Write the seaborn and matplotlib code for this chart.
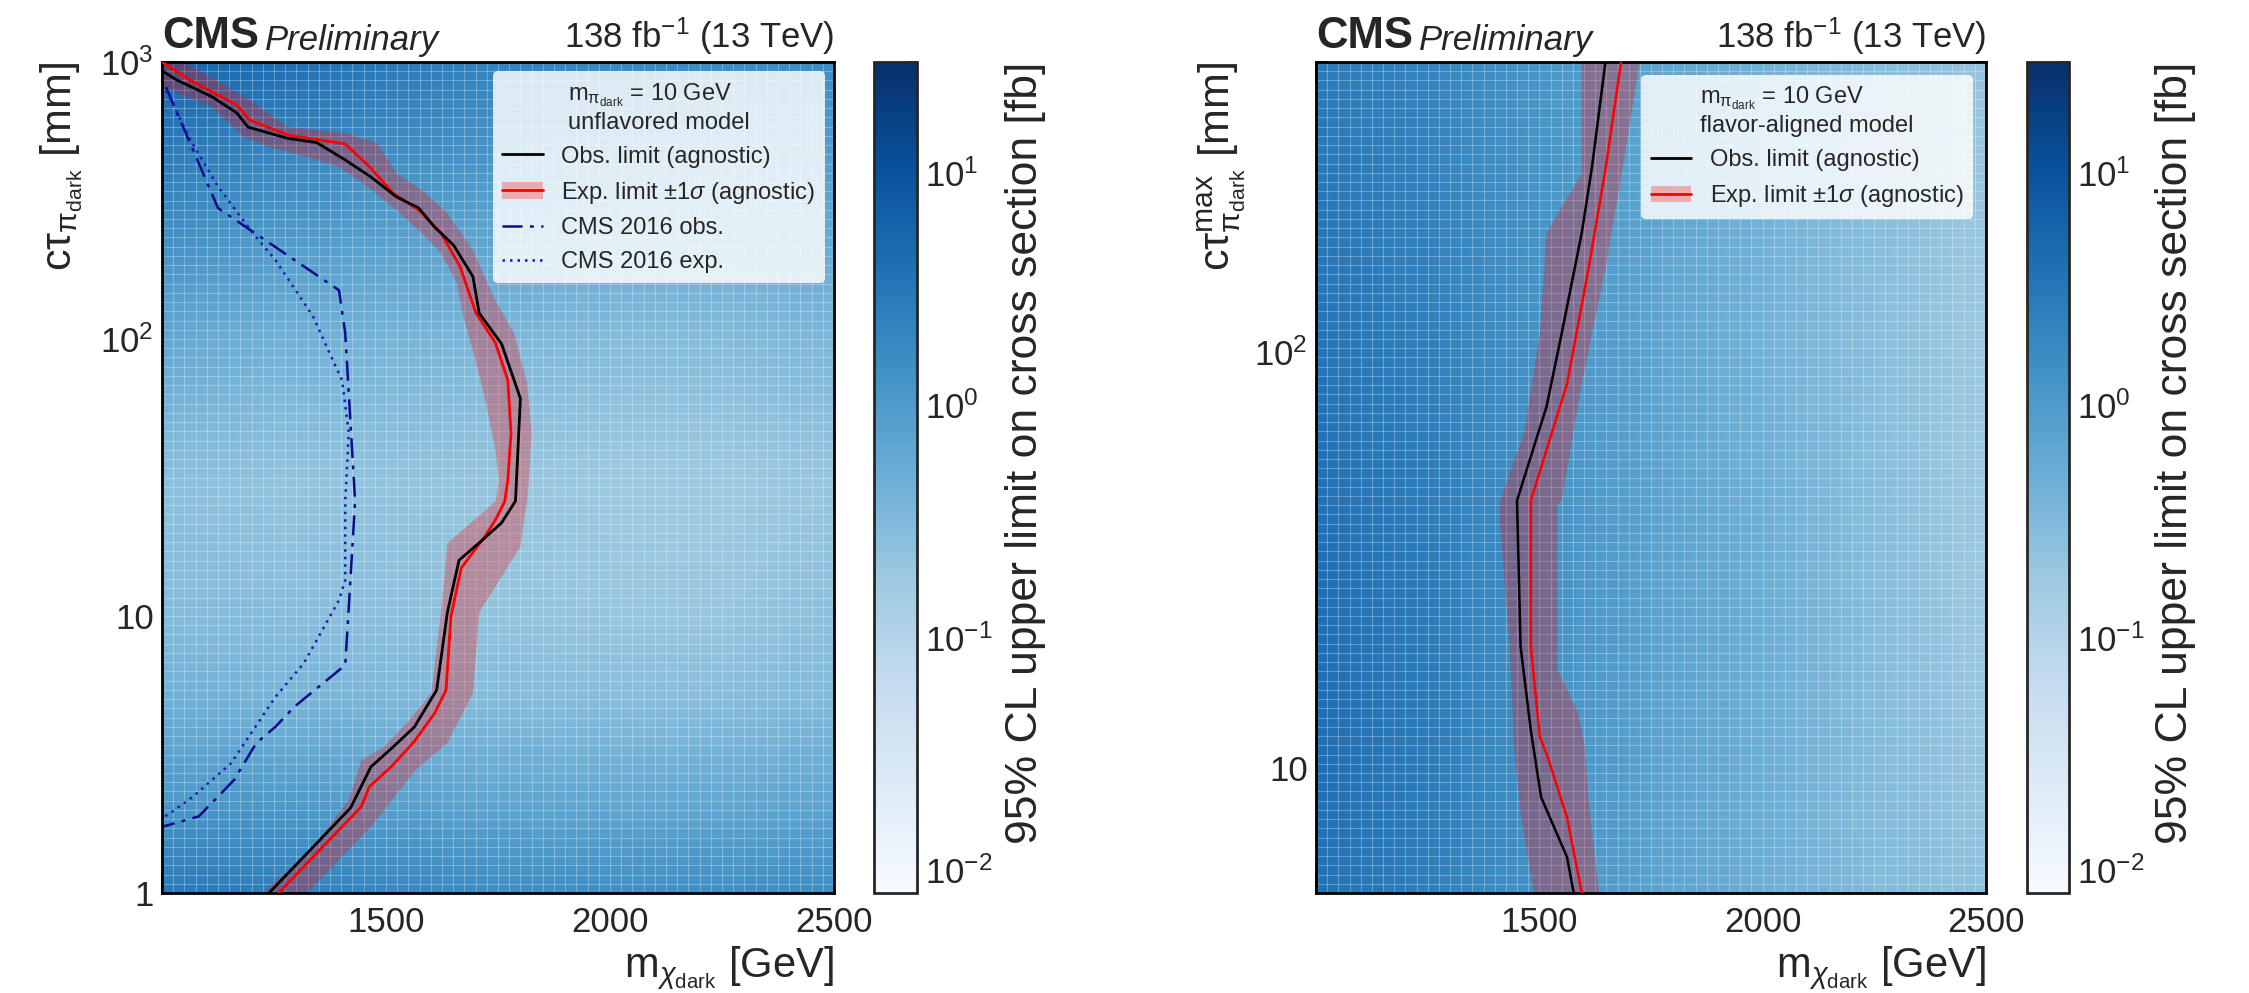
import numpy as np
import matplotlib
matplotlib.use("Agg")
import matplotlib.pyplot as plt
import seaborn as sns
from matplotlib.colors import LogNorm
from matplotlib.cm import ScalarMappable
from matplotlib.lines import Line2D
from matplotlib.patches import Patch
from matplotlib.ticker import MultipleLocator, LogLocator, NullFormatter

# ------------------------------------------------------------------ data
# cross-section upper limit map (fb), read at coarse nodes
mass_nodes = [1000, 1250, 1500, 1750, 2000, 2250, 2500]
ctau_nodes_left = [1, 2, 5, 10, 30, 100, 300, 1000]
xsec_left = [
    [3.0, 2.6, 2.0, 1.6, 1.5, 1.5, 1.6],
    [1.2, 1.1, 0.85, 0.72, 0.66, 0.66, 0.72],
    [0.45, 0.4, 0.35, 0.3, 0.28, 0.28, 0.32],
    [0.3, 0.28, 0.25, 0.22, 0.2, 0.2, 0.25],
    [0.25, 0.22, 0.22, 0.2, 0.18, 0.17, 0.2],
    [0.6, 0.45, 0.4, 0.35, 0.3, 0.3, 0.35],
    [1.8, 1.3, 1.0, 0.8, 0.7, 0.65, 0.65],
    [5.5, 4.3, 3.0, 2.2, 1.8, 1.6, 1.6],
]
ctau_nodes_right = [5, 10, 30, 100, 500]
xsec_right = [
    [3.6, 2.5, 1.3, 0.75, 0.48, 0.32, 0.24],
    [4.0, 2.7, 1.35, 0.75, 0.48, 0.3, 0.2],
    [4.0, 2.7, 1.35, 0.75, 0.48, 0.28, 0.18],
    [3.4, 2.4, 1.25, 0.7, 0.43, 0.27, 0.18],
    [2.8, 2.1, 1.2, 0.7, 0.43, 0.28, 0.2],
]

# left panel (unflavored) limit contours: mass [GeV], ctau [mm]
obs_left_m = [1000, 1033, 1111, 1167, 1192, 1281, 1345, 1409, 1466, 1523, 1573, 1608,
              1651, 1694, 1708, 1758, 1800, 1789, 1758, 1715, 1663, 1637, 1613, 1563,
              1516, 1466, 1421, 1239]
obs_left_ct = [930, 861, 750, 655, 582, 530, 512, 443, 385, 326, 297, 254,
               218, 168, 124, 96, 61, 26, 21.7, 18.8, 15.9, 10.3, 5.4, 3.97,
               3.37, 2.85, 2.03, 1.0]
exp_left_m = [1000, 1062, 1167, 1196, 1281, 1409, 1463, 1516, 1573, 1623, 1665, 1701,
              1744, 1772, 1779, 1772, 1765, 1744, 1720, 1668, 1645, 1634, 1609, 1563,
              1512, 1463, 1445, 1260]
exp_left_ct = [1000, 861, 699, 617, 545, 506, 419, 336, 292, 241, 183, 124,
               97, 71, 45.7, 31, 25.9, 22.2, 19.3, 14.9, 10, 5.4, 4.47, 3.52,
               2.86, 2.42, 2.05, 1.0]
band_hi_left_m = [1000, 1050, 1196, 1281, 1409, 1481, 1523, 1580, 1637, 1694, 1744,
                  1786, 1815, 1825, 1819, 1815, 1808, 1800, 1708, 1694, 1637, 1566,
                  1466, 1324]
band_hi_left_ct = [1000, 1000, 730, 583, 554, 509, 397, 345, 285, 209, 138,
                   105, 69, 46, 31, 26, 22.2, 17.8, 10.3, 5.27, 3.48, 2.78,
                   1.73, 1.0]
band_lo_left_m = [1000, 1111, 1182, 1239, 1324, 1395, 1459, 1523, 1580, 1623, 1658,
                  1673, 1694, 1722, 1744, 1752, 1745, 1637, 1630, 1623, 1601, 1552,
                  1495, 1445, 1417, 1338, 1225]
band_lo_left_ct = [813, 689, 537, 493, 454, 418, 354, 292, 241, 204, 159,
                   120, 91, 60, 40, 31, 26, 18.3, 13.5, 10.3, 5.27, 4.2,
                   3.37, 3.02, 2.17, 1.47, 1.0]
cms16_obs_m = [1009, 1125, 1395, 1409, 1431, 1417, 1409, 1296, 1253, 1210, 1161, 1082, 1004]
cms16_obs_ct = [811, 297, 150, 105, 26, 10.8, 6.65, 4.71, 3.98, 3.47, 2.56, 1.89, 1.74]
cms16_exp_m = [1009, 1068, 1125, 1203, 1253, 1303, 1338, 1381, 1402, 1417, 1409,
               1409, 1395, 1317, 1253, 1154, 1068, 1018, 1004]
cms16_exp_ct = [789, 508, 355, 241, 193, 146, 120, 84, 71, 45.7, 26,
                13.5, 11.4, 6.77, 5.1, 2.94, 2.22, 1.94, 1.88]

# right panel (flavor-aligned) limit contours
obs_right_m = [1648, 1618, 1595, 1550, 1516, 1450, 1458, 1481, 1504, 1562, 1577]
obs_right_ct = [500, 280, 194, 111, 74, 44, 19.6, 12.3, 8.5, 6.1, 5]
exp_right_m = [1683, 1649, 1611, 1562, 1481, 1481, 1501, 1519, 1562, 1595]
exp_right_ct = [500, 280, 161, 84, 44, 19.6, 11.9, 10.6, 7.6, 5]
band_lo_right_m = [1595, 1595, 1516, 1501, 1466, 1412, 1412, 1434, 1443, 1458, 1488]
band_lo_right_ct = [500, 270, 194, 111, 64, 44, 38.8, 19.6, 11.2, 7.8, 5]
band_hi_right_m = [1725, 1687, 1649, 1595, 1550, 1541, 1541, 1587, 1602, 1610, 1634]
band_hi_right_ct = [500, 280, 161, 84, 44, 43, 17.2, 13.6, 11.2, 8.4, 5]

xticks = [1000, 1500, 2000, 2500]
xticklabels = ["", "1500", "2000", "2500"]
yticks_left = [1, 10, 100, 1000]
yticklabels_left = ["1", "10", "$10^2$", "$10^3$"]
yticks_right = [10, 100]
yticklabels_right = ["10", "$10^2$"]
cbar_ticks = [1e-2, 1e-1, 1e0, 1e1]
cbar_ticklabels = ["$10^{-2}$", "$10^{-1}$", "$10^{0}$", "$10^{1}$"]

# ------------------------------------------------------------------ style
sns.set_theme(style="ticks")
plt.rcParams["font.family"] = ["Liberation Sans", "DejaVu Sans"]
plt.rcParams["mathtext.fontset"] = "custom"
plt.rcParams["mathtext.rm"] = "Liberation Sans"
plt.rcParams["mathtext.it"] = "Liberation Sans:italic"
plt.rcParams["mathtext.bf"] = "Liberation Sans:bold"
plt.rcParams["axes.unicode_minus"] = True

cmap = sns.color_palette("Blues", as_cmap=True)
norm = LogNorm(vmin=0.008, vmax=30)
band_color = (1.0, 0.0, 0.0, 0.28)
dark_blue = "#0b0b8c"

W, H = 2249, 993
fig = plt.figure(figsize=(W / 100, H / 100), dpi=100)


def frac(x0, y0, x1, y1):
    return [x0 / W, 1 - y1 / H, (x1 - x0) / W, (y1 - y0) / H]


axL = fig.add_axes(frac(162, 62, 834, 893))
caxL = fig.add_axes(frac(874, 62, 917, 893))
axR = fig.add_axes(frac(1316, 62, 1986, 893))
caxR = fig.add_axes(frac(2027, 62, 2069, 893))


def draw_map(ax, ct_nodes, z, ylim):
    X, Y = np.meshgrid(mass_nodes, ct_nodes)
    ax.pcolormesh(X, Y, np.array(z), shading="gouraud", cmap=cmap, norm=norm)
    ax.set_yscale("log")
    ax.set_xlim(1000, 2500)
    ax.set_ylim(*ylim)
    # fine cell grid of the underlying scan
    gx = np.arange(1000, 2501, 25)
    gy = np.geomspace(ylim[0], ylim[1], 91)
    ax.vlines(gx, ylim[0], ylim[1], colors="white", alpha=0.28, lw=0.8, zorder=1)
    ax.hlines(gy, 1000, 2500, colors="white", alpha=0.28, lw=0.8, zorder=1)


def band(ax, lo_m, lo_ct, hi_m, hi_ct):
    xs = list(lo_m) + list(hi_m)[::-1]
    ys = list(lo_ct) + list(hi_ct)[::-1]
    ax.fill(xs, ys, color=band_color, lw=0, zorder=2)


def style_axes(ax, yticks, yticklabels, ylabel, ylabel_x):
    ax.set_xticks(xticks, xticklabels)
    ax.xaxis.set_minor_locator(MultipleLocator(100))
    ax.set_yticks(yticks, yticklabels)
    ax.yaxis.set_minor_locator(LogLocator(base=10, subs=np.arange(2, 10)))
    ax.yaxis.set_minor_formatter(NullFormatter())
    ax.tick_params(which="both", direction="in", top=True, right=True,
                   width=1.4, color="#222222", labelsize=25)
    ax.tick_params(which="major", length=15)
    ax.tick_params(which="minor", length=8)
    ax.tick_params(axis="x", pad=9)
    ax.tick_params(axis="y", pad=6)
    for s in ax.spines.values():
        s.set_linewidth(2)
        s.set_color("black")
    ax.set_xlabel(r"m$_{\chi_{\mathrm{dark}}}$ [GeV]", fontsize=30, loc="right")
    ax.xaxis.set_label_coords(1.0, -0.062)
    ax.set_ylabel(ylabel, fontsize=31, loc="top")
    ax.yaxis.set_label_coords(ylabel_x, 1.0)
    t1 = ax.text(0.0, 1.006, "CMS", transform=ax.transAxes, fontsize=31.5,
                 fontweight="bold", ha="left", va="bottom")
    ax.annotate("Preliminary", xy=(1, 0), xycoords=t1, xytext=(4, 0),
                textcoords="offset points", fontsize=25, style="italic",
                ha="left", va="bottom")
    ax.text(1.0, 1.006, r"138 fb$^{-1}$ (13 TeV)", transform=ax.transAxes,
            fontsize=25, ha="right", va="bottom")


def style_cbar(cax):
    cb = fig.colorbar(ScalarMappable(norm=norm, cmap=cmap), cax=cax)
    cb.set_ticks(cbar_ticks, labels=cbar_ticklabels)
    cb.outline.set_linewidth(2)
    cax.tick_params(which="both", direction="in", width=1.3, color="#333333",
                    labelsize=25, pad=6)
    cax.tick_params(which="major", length=15)
    cax.tick_params(which="minor", length=7)
    cax.set_ylabel("95% CL upper limit on cross section [fb]", fontsize=32, loc="top")
    cax.yaxis.set_label_coords(3.05, 1.0)


# ------------------------------------------------------------------ left panel
draw_map(axL, ctau_nodes_left, xsec_left, (1, 1000))
band(axL, band_lo_left_m, band_lo_left_ct, band_hi_left_m, band_hi_left_ct)
sns.lineplot(x=exp_left_m, y=exp_left_ct, sort=False, estimator=None, color="red",
             lw=2, ax=axL, legend=False, zorder=3)
sns.lineplot(x=obs_left_m, y=obs_left_ct, sort=False, estimator=None, color="black",
             lw=2, ax=axL, legend=False, zorder=4)
sns.lineplot(x=cms16_obs_m, y=cms16_obs_ct, sort=False, estimator=None, color=dark_blue,
             lw=1.8, ax=axL, legend=False, zorder=3, linestyle=(0, (8, 3, 1.5, 3)))
sns.lineplot(x=cms16_exp_m, y=cms16_exp_ct, sort=False, estimator=None, color="#1c1cb0",
             lw=1.8, ax=axL, legend=False, zorder=3, linestyle=(0, (1, 2)))
style_axes(axL, yticks_left, yticklabels_left,
           r"c$\mathrm{\tau}_{\mathrm{\pi}_{\mathrm{dark}}}$ [mm]", -0.115)
style_cbar(caxL)

h_obs = Line2D([], [], color="black", lw=2)
h_exp = (Patch(facecolor=band_color, edgecolor="none"), Line2D([], [], color="red", lw=2))
h_16o = Line2D([], [], color=dark_blue, lw=1.8, linestyle=(0, (8, 3, 1.5, 3)))
h_16e = Line2D([], [], color="#1c1cb0", lw=1.8, linestyle=(0, (1, 2)))
legL = axL.legend([h_obs, h_exp, h_16o, h_16e],
                  ["Obs. limit (agnostic)", r"Exp. limit $\pm$1$\sigma$ (agnostic)",
                   "CMS 2016 obs.", "CMS 2016 exp."],
                  title="m$_{\\mathrm{\\pi}_{\\mathrm{dark}}}$ = 10 GeV\nunflavored model",
                  loc="upper right", fontsize=17, title_fontsize=17, frameon=True,
                  framealpha=0.82, facecolor="white", edgecolor="none", fancybox=True,
                  handlelength=1.7, handletextpad=0.8, labelspacing=0.5,
                  borderaxespad=0.4)
legL.set_zorder(10)

# ------------------------------------------------------------------ right panel
draw_map(axR, ctau_nodes_right, xsec_right, (5, 500))
band(axR, band_lo_right_m, band_lo_right_ct, band_hi_right_m, band_hi_right_ct)
sns.lineplot(x=exp_right_m, y=exp_right_ct, sort=False, estimator=None, color="red",
             lw=1.8, ax=axR, legend=False, zorder=3)
sns.lineplot(x=obs_right_m, y=obs_right_ct, sort=False, estimator=None, color="black",
             lw=1.8, ax=axR, legend=False, zorder=4)
style_axes(axR, yticks_right, yticklabels_right,
           r"c$\mathrm{\tau}^{\mathrm{max}}_{\mathrm{\pi}_{\mathrm{dark}}}$ [mm]", -0.101)
style_cbar(caxR)
legR = axR.legend([h_obs, h_exp],
                  ["Obs. limit (agnostic)", r"Exp. limit $\pm$1$\sigma$ (agnostic)"],
                  title="m$_{\\mathrm{\\pi}_{\\mathrm{dark}}}$ = 10 GeV\nflavor-aligned model",
                  loc="upper right", fontsize=17, title_fontsize=17, frameon=True,
                  framealpha=0.82, facecolor="white", edgecolor="none", fancybox=True,
                  handlelength=1.7, handletextpad=0.8, labelspacing=0.5,
                  borderaxespad=0.55)
legR.set_zorder(10)

fig.savefig("out.png", dpi=100)
